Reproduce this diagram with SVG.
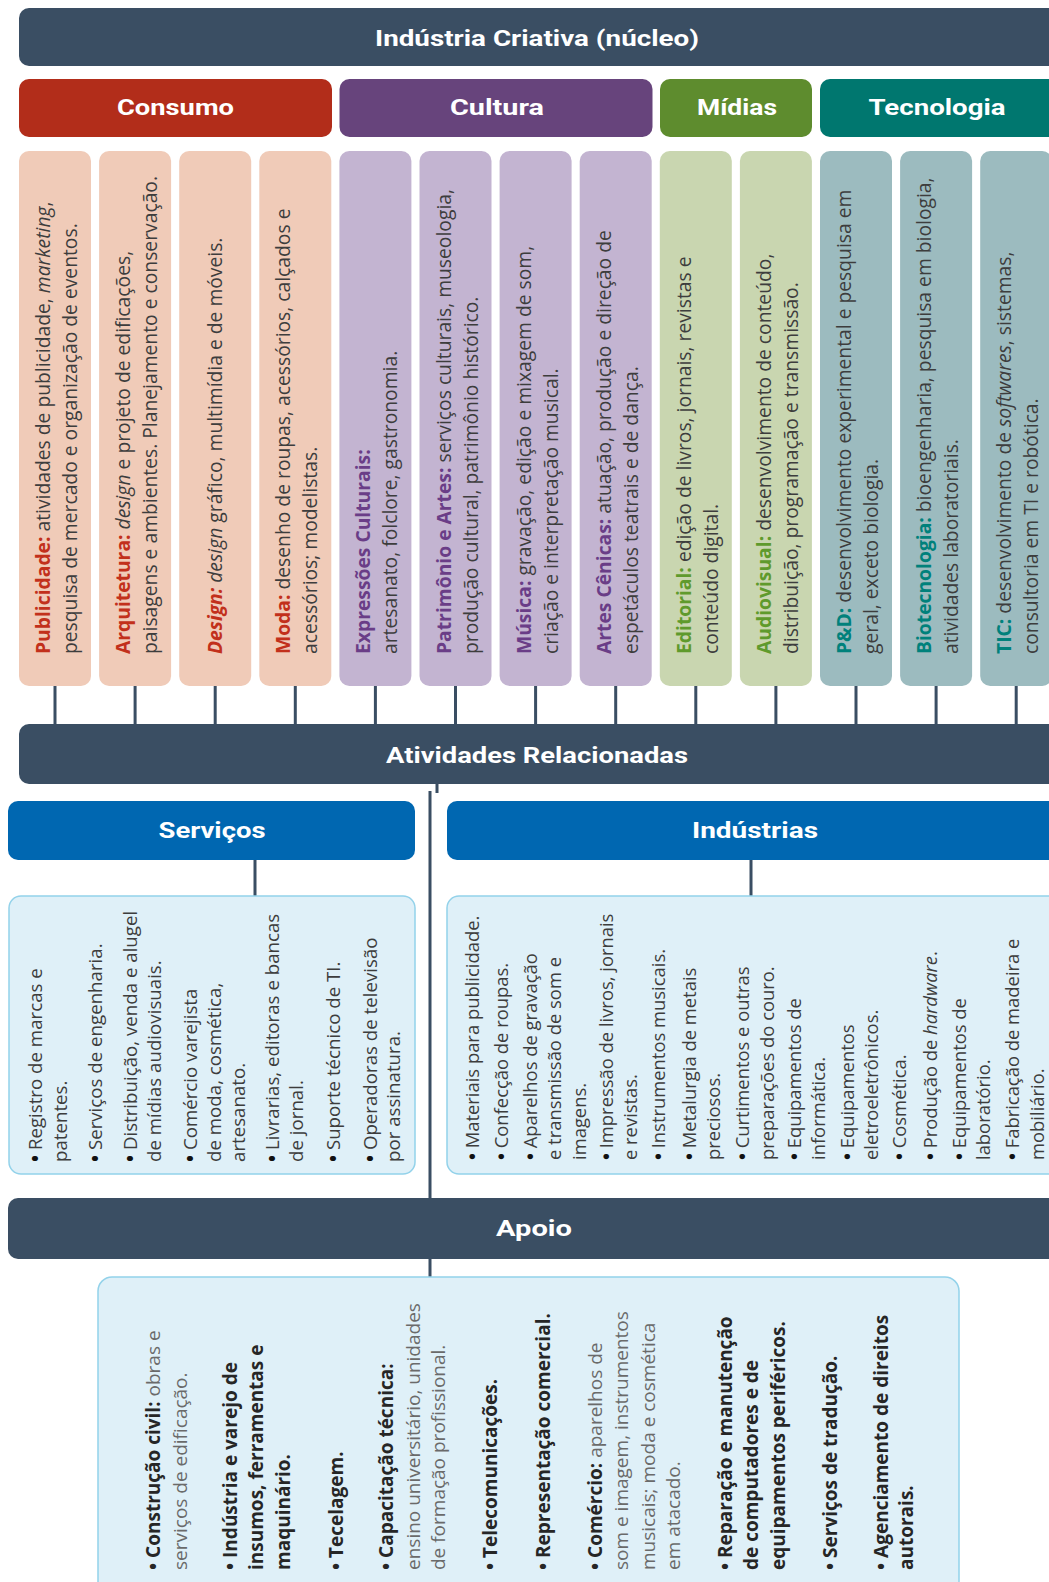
<svg xmlns="http://www.w3.org/2000/svg" width="1049" height="1582" viewBox="0 0 1049 1582">
<style>
.bar{fill:#3a4e63}
.blue{fill:#0067b1}
.hdr{font-family:"Roboto","Liberation Sans",sans-serif;font-weight:700;font-size:22px;fill:#fff;text-anchor:middle}
.ct{font-family:"Open Sans","Liberation Sans",sans-serif;font-size:19.3px;fill:#3d3d3d}
.bt{font-family:"Open Sans","Liberation Sans",sans-serif;font-size:18.7px;fill:#3d3d3d}
.bi{font-family:"Open Sans","Liberation Sans",sans-serif;font-size:18.4px;fill:#3d3d3d}
.at{font-family:"Open Sans","Liberation Sans",sans-serif;font-size:19px;fill:#6a6a6a}
.ab{font-weight:700;fill:#262626}
.bu{font-weight:700;fill:#111}
.lb{font-weight:700}
.it{font-style:italic}
.con .lb{fill:#c2301b}
.cul .lb{fill:#6a3d87}
.mid .lb{fill:#5f9a2c}
.tec .lb{fill:#00817b}
.con rect{fill:#f0cbb8}
.cul rect{fill:#c3b4d1}
.mid rect{fill:#c9d6b0}
.tec rect{fill:#9cbbbf}
.conn{stroke:#3a4e63;stroke-width:3;fill:none}
.box{fill:#dff0f8;stroke:#93d2ea;stroke-width:1.5}
</style>

<g id="connectors">
<path class="conn" d="M55 686V724M135.1 686V724M215.2 686V724M295.3 686V724M375.4 686V724M455.5 686V724M535.6 686V724M615.7 686V724M695.8 686V724M775.9 686V724M856 686V724M936.1 686V724M1016.2 686V724"/>
<path class="conn" d="M437 784V793M430 791V1198M255 860V896M751 860V896M430 1259V1277"/>
</g>

<g id="nucleo">
<rect class="bar" x="19" y="8" width="1045" height="58" rx="10"/>
<text class="hdr" x="537" y="46" textLength="324" lengthAdjust="spacingAndGlyphs">Indústria Criativa (núcleo)</text>
</g>

<g id="consumo">
<rect x="19" y="79" width="313" height="58" rx="10" fill="#b22d1a"/>
<text class="hdr" x="175.5" y="115" textLength="117" lengthAdjust="spacingAndGlyphs">Consumo</text>
</g>
<g id="cultura">
<rect x="339.5" y="79" width="313" height="58" rx="10" fill="#67447c"/>
<text class="hdr" x="497" y="115" textLength="94" lengthAdjust="spacingAndGlyphs">Cultura</text>
</g>
<g id="midias">
<rect x="660" y="79" width="152" height="58" rx="10" fill="#5e8c2e"/>
<text class="hdr" x="737" y="115" textLength="80" lengthAdjust="spacingAndGlyphs">Mídias</text>
</g>
<g id="tecnologia">
<rect x="820" y="79" width="245" height="58" rx="10" fill="#00776f"/>
<text class="hdr" x="937" y="115" textLength="137" lengthAdjust="spacingAndGlyphs">Tecnologia</text>
</g>

<g id="col-publicidade" class="con">
<rect x="19" y="151" width="72" height="535" rx="10"/>
<g transform="translate(55,654) rotate(-90)">
<text class="ct" y="-5"><tspan class="lb">Publicidade:</tspan> atividades de publicidade, <tspan class="it">marketing</tspan>,</text>
<text class="ct" y="22">pesquisa de mercado e organização de eventos.</text>
</g></g>

<g id="col-arquitetura" class="con">
<rect x="99.1" y="151" width="72" height="535" rx="10"/>
<g transform="translate(135.1,654) rotate(-90)">
<text class="ct" y="-5"><tspan class="lb">Arquitetura:</tspan> <tspan class="it">design</tspan> e projeto de edificações,</text>
<text class="ct" y="22">paisagens e ambientes. Planejamento e conservação.</text>
</g></g>

<g id="col-design" class="con">
<rect x="179.2" y="151" width="72" height="535" rx="10"/>
<g transform="translate(215.2,654) rotate(-90)">
<text class="ct" y="7"><tspan class="lb it">Design:</tspan> <tspan class="it">design</tspan> gráfico, multimídia e de móveis.</text>
</g></g>

<g id="col-moda" class="con">
<rect x="259.3" y="151" width="72" height="535" rx="10"/>
<g transform="translate(295.3,654) rotate(-90)">
<text class="ct" y="-5"><tspan class="lb">Moda:</tspan> desenho de roupas, acessórios, calçados e</text>
<text class="ct" y="22">acessórios; modelistas.</text>
</g></g>

<g id="col-expressoes" class="cul">
<rect x="339.4" y="151" width="72" height="535" rx="10"/>
<g transform="translate(375.4,654) rotate(-90)">
<text class="ct" y="-5"><tspan class="lb">Expressões Culturais:</tspan></text>
<text class="ct" y="22">artesanato, folclore, gastronomia.</text>
</g></g>

<g id="col-patrimonio" class="cul">
<rect x="419.5" y="151" width="72" height="535" rx="10"/>
<g transform="translate(455.5,654) rotate(-90)">
<text class="ct" y="-5"><tspan class="lb">Patrimônio e Artes:</tspan> serviços culturais, museologia,</text>
<text class="ct" y="22">produção cultural, patrimônio histórico.</text>
</g></g>

<g id="col-musica" class="cul">
<rect x="499.6" y="151" width="72" height="535" rx="10"/>
<g transform="translate(535.6,654) rotate(-90)">
<text class="ct" y="-5"><tspan class="lb">Música:</tspan> gravação, edição e mixagem de som,</text>
<text class="ct" y="22">criação e interpretação musical.</text>
</g></g>

<g id="col-artes-cenicas" class="cul">
<rect x="579.7" y="151" width="72" height="535" rx="10"/>
<g transform="translate(615.7,654) rotate(-90)">
<text class="ct" y="-5"><tspan class="lb">Artes Cênicas:</tspan> atuação, produção e direção de</text>
<text class="ct" y="22">espetáculos teatrais e de dança.</text>
</g></g>

<g id="col-editorial" class="mid">
<rect x="659.8" y="151" width="72" height="535" rx="10"/>
<g transform="translate(695.8,654) rotate(-90)">
<text class="ct" y="-5"><tspan class="lb">Editorial:</tspan> edição de livros, jornais, revistas e</text>
<text class="ct" y="22">conteúdo digital.</text>
</g></g>

<g id="col-audiovisual" class="mid">
<rect x="739.9" y="151" width="72" height="535" rx="10"/>
<g transform="translate(775.9,654) rotate(-90)">
<text class="ct" y="-5"><tspan class="lb">Audiovisual:</tspan> desenvolvimento de conteúdo,</text>
<text class="ct" y="22">distribuição, programação e transmissão.</text>
</g></g>

<g id="col-pd" class="tec">
<rect x="820" y="151" width="72" height="535" rx="10"/>
<g transform="translate(856,654) rotate(-90)">
<text class="ct" y="-5"><tspan class="lb">P&amp;D:</tspan> desenvolvimento experimental e pesquisa em</text>
<text class="ct" y="22">geral, exceto biologia.</text>
</g></g>

<g id="col-biotecnologia" class="tec">
<rect x="900.1" y="151" width="72" height="535" rx="10"/>
<g transform="translate(936.1,654) rotate(-90)">
<text class="ct" y="-5"><tspan class="lb">Biotecnologia:</tspan> bioengenharia, pesquisa em biologia,</text>
<text class="ct" y="22">atividades laboratoriais.</text>
</g></g>

<g id="col-tic" class="tec">
<rect x="980.2" y="151" width="72" height="535" rx="10"/>
<g transform="translate(1016.2,654) rotate(-90)">
<text class="ct" y="-5"><tspan class="lb">TIC:</tspan> desenvolvimento de <tspan class="it">softwares</tspan>, sistemas,</text>
<text class="ct" y="22">consultoria em TI e robótica.</text>
</g></g>

<g id="atividades">
<rect class="bar" x="19" y="724" width="1045" height="60" rx="10"/>
<text class="hdr" x="537" y="763" textLength="302" lengthAdjust="spacingAndGlyphs">Atividades Relacionadas</text>
</g>

<g id="servicos">
<rect class="blue" x="8" y="801" width="407" height="59" rx="10"/>
<text class="hdr" x="212" y="838" textLength="107" lengthAdjust="spacingAndGlyphs">Serviços</text>
</g>

<g id="industrias">
<rect class="blue" x="447" y="801" width="620" height="59" rx="10"/>
<text class="hdr" x="755" y="838" textLength="126" lengthAdjust="spacingAndGlyphs">Indústrias</text>
</g>

<g id="servicos-lista">
<rect class="box" x="9" y="896" width="406" height="278" rx="12"/>
<g transform="translate(0,1162) rotate(-90)">
<text class="bt" y="42"><tspan class="bu">•</tspan> Registro de marcas e</text>
<text class="bt" y="67">patentes.</text>
<text class="bt" y="102"><tspan class="bu">•</tspan> Serviços de engenharia.</text>
<text class="bt" y="137"><tspan class="bu">•</tspan> Distribuição, venda e alugel</text>
<text class="bt" y="161">de mídias audiovisuais.</text>
<text class="bt" y="197"><tspan class="bu">•</tspan> Comércio varejista</text>
<text class="bt" y="221">de moda, cosmética,</text>
<text class="bt" y="245">artesanato.</text>
<text class="bt" y="279"><tspan class="bu">•</tspan> Livrarias, editoras e bancas</text>
<text class="bt" y="303">de jornal.</text>
<text class="bt" y="340"><tspan class="bu">•</tspan> Suporte técnico de TI.</text>
<text class="bt" y="377"><tspan class="bu">•</tspan> Operadoras de televisão</text>
<text class="bt" y="400">por assinatura.</text>
</g></g>

<g id="industrias-lista">
<rect class="box" x="447" y="896" width="620" height="278" rx="12"/>
<g transform="translate(0,1160) rotate(-90)">
<text class="bi" y="479"><tspan class="bu">•</tspan> Materiais para publicidade.</text>
<text class="bi" y="508"><tspan class="bu">•</tspan> Confecção de roupas.</text>
<text class="bi" y="537"><tspan class="bu">•</tspan> Aparelhos de gravação</text>
<text class="bi" y="561">e transmissão de som e</text>
<text class="bi" y="586">imagens.</text>
<text class="bi" y="613"><tspan class="bu">•</tspan> Impressão de livros, jornais</text>
<text class="bi" y="637">e revistas.</text>
<text class="bi" y="665"><tspan class="bu">•</tspan> Instrumentos musicais.</text>
<text class="bi" y="696"><tspan class="bu">•</tspan> Metalurgia de metais</text>
<text class="bi" y="720">preciosos.</text>
<text class="bi" y="749"><tspan class="bu">•</tspan> Curtimentos e outras</text>
<text class="bi" y="774">preparações do couro.</text>
<text class="bi" y="801"><tspan class="bu">•</tspan> Equipamentos de</text>
<text class="bi" y="825">informática.</text>
<text class="bi" y="854"><tspan class="bu">•</tspan> Equipamentos</text>
<text class="bi" y="878">eletroeletrônicos.</text>
<text class="bi" y="906"><tspan class="bu">•</tspan> Cosmética.</text>
<text class="bi" y="937"><tspan class="bu">•</tspan> Produção de <tspan class="it">hardware</tspan>.</text>
<text class="bi" y="966"><tspan class="bu">•</tspan> Equipamentos de</text>
<text class="bi" y="990">laboratório.</text>
<text class="bi" y="1019"><tspan class="bu">•</tspan> Fabricação de madeira e</text>
<text class="bi" y="1044">mobiliário.</text>
</g></g>

<g id="apoio">
<rect class="bar" x="8" y="1198" width="1060" height="61" rx="10"/>
<text class="hdr" x="534" y="1236" textLength="76" lengthAdjust="spacingAndGlyphs">Apoio</text>
</g>

<g id="apoio-lista">
<rect class="box" x="98" y="1277" width="861" height="330" rx="14"/>
<g transform="translate(0,1570) rotate(-90)">
<text class="at" y="160"><tspan class="ab">• Construção civil:</tspan> obras e</text>
<text class="at" y="187">serviços de edificação.</text>
<text class="at ab" y="237">• Indústria e varejo de</text>
<text class="at ab" y="263">insumos, ferramentas e</text>
<text class="at ab" y="290">maquinário.</text>
<text class="at ab" y="343">• Tecelagem.</text>
<text class="at" y="393"><tspan class="ab">• Capacitação técnica:</tspan></text>
<text class="at" y="420">ensino universitário, unidades</text>
<text class="at" y="445">de formação profissional.</text>
<text class="at ab" y="497">• Telecomunicações.</text>
<text class="at ab" y="550">• Representação comercial.</text>
<text class="at" y="602"><tspan class="ab">• Comércio:</tspan> aparelhos de</text>
<text class="at" y="628">som e imagem, instrumentos</text>
<text class="at" y="655">musicais; moda e cosmética</text>
<text class="at" y="680">em atacado.</text>
<text class="at ab" y="732">• Reparação e manutenção</text>
<text class="at ab" y="758">de computadores e de</text>
<text class="at ab" y="785">equipamentos periféricos.</text>
<text class="at ab" y="837">• Serviços de tradução.</text>
<text class="at ab" y="888">• Agenciamento de direitos</text>
<text class="at ab" y="913">autorais.</text>
</g></g>
</svg>
